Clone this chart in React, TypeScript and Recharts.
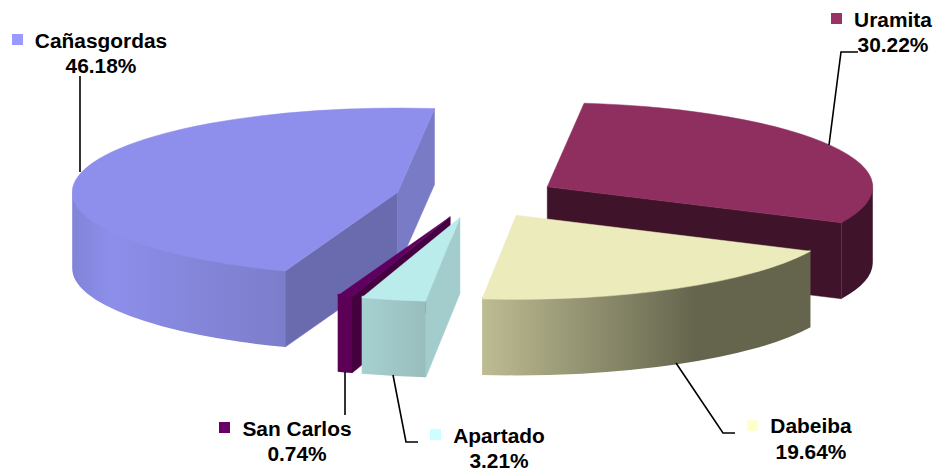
import React from 'react';
import { Pie, PieChart } from 'recharts';

// Slices run counter-clockwise so that they paint back to front.
const places = ['Uramita', 'Cañasgordas', 'San Carlos', 'Apartado', 'Dabeiba'];
const shares = [30.22, 46.18, 0.74, 3.21, 19.64];

const rows = places.map((name, i) => ({ name, value: shares[i] }));

const SQUASH = 0.2585;
const DEPTH = 76;
const EXPLODE = 81;

const looks: Record<string, any> = {
  'Cañasgordas': { top: '#8e8fec', key: '#9999ff', face: ['#6a6bae', '#7a7bc6'], wall: [['0%', '#8284d8'], ['18%', '#8c8eea'], ['100%', '#7c7dca']] },
  'Uramita': { top: '#8f2f5f', key: '#993366', face: ['#3f142a', '#3f142a'], wall: [['0%', '#3f142a'], ['100%', '#3f142a']] },
  'Dabeiba': { top: '#ecebbc', key: '#ffffcc', face: ['#65654e', '#65654e'], wall: [['0%', '#bdbc92'], ['65%', '#65654e'], ['100%', '#65654e']] },
  'Apartado': { top: '#bbecec', key: '#ccffff', face: ['#a3cccc', '#a3cccc'], wall: [['0%', '#a6d0d0'], ['100%', '#99bdbd']] },
  'San Carlos': { top: '#5f0060', key: '#660066', face: ['#45003f', '#45003f'], wall: [['0%', '#5c0056'], ['100%', '#5c0056']] },
};

// label anchor: key square, text centre, two baselines, leader line
const labelSpots: Record<string, any> = {
  'Cañasgordas': { key: [12, 34], x: 101, y: [48, 73], line: '80,76 80,172' },
  'Uramita': { key: [831, 13], x: 893, y: [27, 52], line: '858,52 841,52 829,145' },
  'Dabeiba': { key: [747, 420], x: 811, y: [433, 459], line: '735,433 723,433 676,363' },
  'Apartado': { key: [430, 429], x: 499, y: [443, 468], line: '418,442 406,442 393,375' },
  'San Carlos': { key: [219, 422], x: 297, y: [436, 461], line: '345,372 345,415' },
};

const rad = (deg: number) => (deg * Math.PI) / 180;

function Slice3D(props: any) {
  const { cx, cy, outerRadius: r, startAngle, endAngle, name } = props;
  const look = looks[name];
  const b = r * SQUASH;
  // hi is the slice's clockwise start, lo its clockwise end
  const hi = Math.max(startAngle, endAngle);
  const lo = Math.min(startAngle, endAngle);
  const mid = rad((hi + lo) / 2);
  const ox = cx + EXPLODE * Math.cos(mid);
  const oy = cy - EXPLODE * SQUASH * Math.sin(mid);
  const pt = (a: number, drop = 0) =>
    `${ox + r * Math.cos(rad(a))} ${oy - b * Math.sin(rad(a)) + drop}`;
  const large = hi - lo > 180 ? 1 : 0;
  const gradId = `wall-${name.replace(/\W/g, '')}`;

  const face = (a: number) =>
    `M${ox} ${oy}L${pt(a)}L${pt(a, DEPTH)}L${ox} ${oy + DEPTH}Z`;

  // the outer wall only shows on the front half of the ellipse
  const walls: string[] = [];
  for (const base of [-360, 0, 360, 720]) {
    const a = Math.min(hi, base);
    const z = Math.max(lo, base - 180);
    if (a > z) {
      // wall starts 2px up so no white seam shows under the top face
      walls.push(
        `M${pt(a, -2)}A${r} ${b} 0 0 1 ${pt(z, -2)}L${pt(z, DEPTH)}A${r} ${b} 0 0 0 ${pt(a, DEPTH)}Z`
      );
    }
  }

  return (
    <g>
      <defs>
        <linearGradient id={gradId} x1="0" y1="0" x2="1" y2="0">
          {look.wall.map((s: string[]) => (
            <stop key={s[0]} offset={s[0]} stopColor={s[1]} />
          ))}
        </linearGradient>
      </defs>
      {Math.cos(rad(hi)) < 0 && <path d={face(hi)} fill={look.face[0]} stroke={look.face[0]} strokeWidth={0.5} />}
      {Math.cos(rad(lo)) > 0 && <path d={face(lo)} fill={look.face[1]} stroke={look.face[1]} strokeWidth={0.5} />}
      {walls.map((d) => (
        <path key={d} d={d} fill={`url(#${gradId})`} />
      ))}
      <path d={`M${ox} ${oy}L${pt(hi)}A${r} ${b} 0 ${large} 1 ${pt(lo)}Z`} fill={look.top} stroke={look.top} strokeWidth={0.5} />
    </g>
  );
}

function SliceLabel(props: any) {
  const { name, value } = props;
  const spot = labelSpots[name];
  const textStyle = { fontFamily: '"Liberation Sans", Arial, sans-serif', fontSize: 20.9, fontWeight: 700 };
  return (
    <g>
      <polyline points={spot.line} fill="none" stroke="#000" strokeWidth={1.6} />
      <rect x={spot.key[0]} y={spot.key[1]} width={11} height={11} fill={looks[name].key} />
      <text x={spot.x} y={spot.y[0]} textAnchor="middle" fill="#000" style={textStyle}>{name}</text>
      <text x={spot.x} y={spot.y[1]} textAnchor="middle" fill="#000" style={textStyle}>{value.toFixed(2)}%</text>
    </g>
  );
}

export default function App() {
  return (
    <div style={{ position: 'absolute', left: 0, top: 0, width: 938, height: 471, background: '#fff' }}>
      <PieChart width={938} height={471} margin={{ top: 0, right: 0, bottom: 0, left: 0 }}>
        <Pie
          data={rows}
          dataKey="value"
          nameKey="name"
          cx={476.5}
          cy={197}
          innerRadius={0}
          outerRadius={325.5}
          startAngle={-25.3}
          endAngle={334.7}
          stroke="none"
          shape={Slice3D}
          label={SliceLabel}
          labelLine={false}
          isAnimationActive={false}
        />
      </PieChart>
    </div>
  );
}
